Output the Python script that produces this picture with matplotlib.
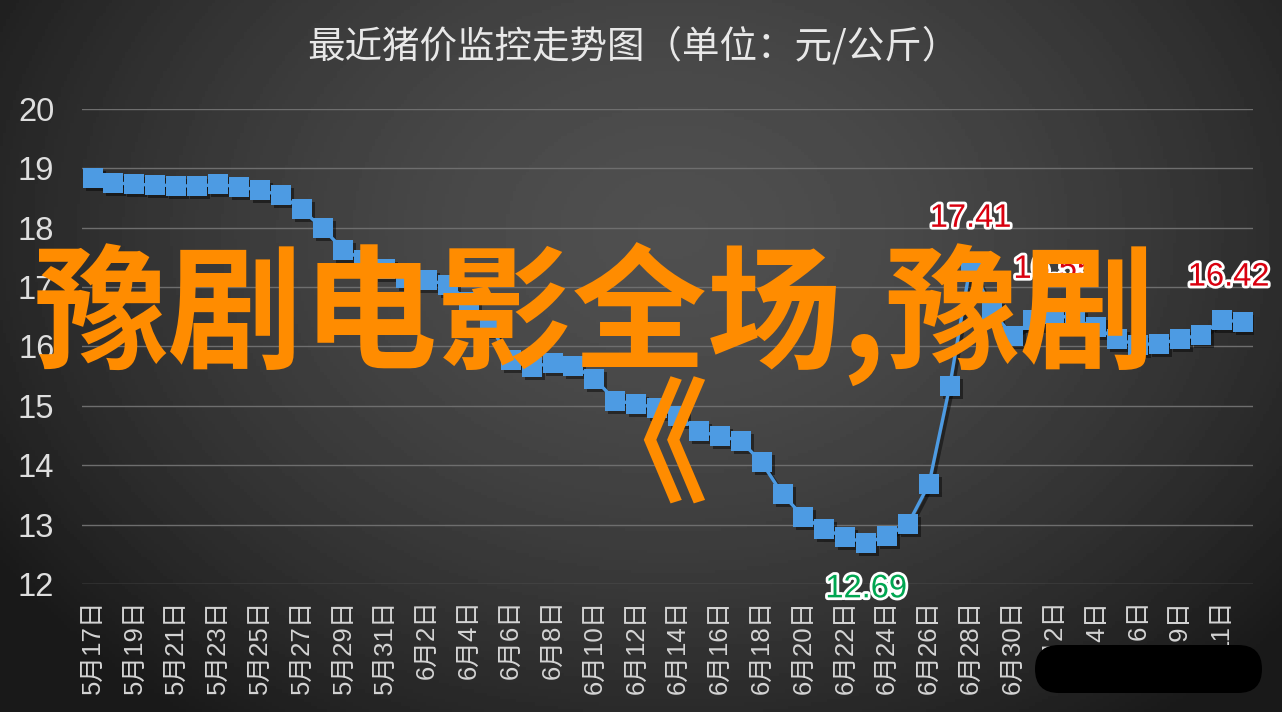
import matplotlib
matplotlib.use("Agg")
import matplotlib.pyplot as plt
import matplotlib.patheffects as pe
from matplotlib.patches import FancyBboxPatch
from matplotlib.transforms import ScaledTranslation
import numpy as np

plt.rcParams['font.family'] = ['Liberation Sans', 'Noto Sans CJK SC', 'DejaVu Sans']

title = '最近猪价监控走势图（单位：元/公斤）'
overlay = '豫剧电影全场,豫剧'
overlay2 = '《'

dates = ['5月17日', '5月18日', '5月19日', '5月20日', '5月21日', '5月22日', '5月23日',
         '5月24日', '5月25日', '5月26日', '5月27日', '5月28日', '5月29日', '5月30日',
         '5月31日', '6月1日', '6月2日', '6月3日', '6月4日', '6月5日', '6月6日', '6月7日',
         '6月8日', '6月9日', '6月10日', '6月11日', '6月12日', '6月13日', '6月14日',
         '6月15日', '6月16日', '6月17日', '6月18日', '6月19日', '6月20日', '6月21日',
         '6月22日', '6月23日', '6月24日', '6月25日', '6月26日', '6月27日', '6月28日',
         '6月29日', '6月30日', '7月1日', '7月2日', '7月3日', '7月4日', '7月5日',
         '7月6日', '7月8日', '7月9日', '7月10日', '7月11日', '7月12日']

prices = [18.84, 18.76, 18.73, 18.72, 18.71, 18.70, 18.73, 18.69, 18.63, 18.55,
          18.31, 17.99, 17.63, 17.45, 17.30, 17.16, 17.12, 17.04, 16.75, 16.35,
          15.78, 15.66, 15.72, 15.67, 15.46, 15.09, 15.03, 14.97, 14.83, 14.57,
          14.49, 14.41, 14.05, 13.51, 13.13, 12.92, 12.79, 12.69, 12.81, 13.01,
          13.68, 15.34, 17.41, 16.60, 16.18, 16.45, 16.55, 16.45, 16.32, 16.12,
          16.03, 16.05, 16.12, 16.20, 16.44, 16.42]

yticks = [12, 13, 14, 15, 16, 17, 18, 19, 20]

# labelled points: index, text, colour
marks = [(42, '17.41', '#d9000f'), (46, '16.55', '#d9000f'),
         (55, '16.42', '#d9000f'), (37, '12.69', '#00a651')]

fig = plt.figure(figsize=(12.82, 7.12), dpi=100)

# dark radial background
bg = fig.add_axes([0, 0, 1, 1], zorder=-10)
gx, gy = np.meshgrid(np.linspace(-1, 1, 400), np.linspace(-1, 1, 220))
r = np.sqrt(((gx - 0.05) / 1.1) ** 2 + ((gy + 0.35) / 1.5) ** 2)
shade = np.clip(0.31 - 0.17 * r ** 1.6, 0.1, 0.32)
bg.imshow(shade, cmap='gray', vmin=0, vmax=1, aspect='auto', extent=[0, 1, 0, 1])
bg.axis('off')

ax = fig.add_axes([0.064, 0.1798, 0.9134, 0.6671])
ax.set_facecolor('none')
x = np.arange(len(prices))

shadow = ax.transData + ScaledTranslation(3 / 100, -3 / 100, fig.dpi_scale_trans)
ax.plot(x, prices, color='black', alpha=0.45, lw=2.4, marker='s', ms=14,
        mew=0, transform=shadow, zorder=2)
ax.plot(x, prices, color='#4d9be3', lw=2.4, marker='s', ms=14, mew=0, zorder=3)

for i, txt, col in marks:
    dy = -33 if col == '#00a651' else 32
    dx = -10 if i == len(prices) - 1 else 0
    ax.annotate(txt, (x[i], prices[i]), xytext=(dx, dy), textcoords='offset points',
                ha='center', va='center', fontsize=23.5, color=col, zorder=5,
                path_effects=[pe.withStroke(linewidth=4, foreground='white')])

ax.set_xlim(-0.5, len(prices) - 0.5)
ax.set_ylim(12, 20)
ax.set_yticks(yticks)
ax.set_xticks(x[::2])
ax.set_xticklabels(dates[::2], rotation=90, fontsize=18.5, color='#d4d4d4')
ax.tick_params(axis='y', length=0, pad=20, labelsize=23.5, labelcolor='#dedede')
ax.tick_params(axis='x', length=0, pad=11)
ax.yaxis.grid(True, color='#6e6e6e', lw=1)
ax.set_axisbelow(True)
for s in ax.spines.values():
    s.set_visible(False)

fig.text(0.494, 0.934, title, ha='center', va='center', fontsize=27,
         color='#e8e8e8', family=['Noto Sans CJK SC', 'DejaVu Sans'])

fig.text(0.464, 0.557, overlay, ha='center', va='center', fontsize=97,
         color='#ff8c00', weight='bold', family=['Noto Sans CJK SC', 'DejaVu Sans'],
         zorder=20)
fig.text(0.500, 0.365, overlay2, ha='center', va='center', fontsize=97,
         color='#ff8c00', weight='bold', family=['Noto Sans CJK SC', 'DejaVu Sans'],
         zorder=20)

pill = FancyBboxPatch((10.35, 0.19), 2.27, 0.48,
                      boxstyle='round,pad=0,rounding_size=0.24',
                      transform=fig.dpi_scale_trans, facecolor='black',
                      edgecolor='none', zorder=30)
fig.patches.append(pill)

fig.savefig('out.png', dpi=100)
